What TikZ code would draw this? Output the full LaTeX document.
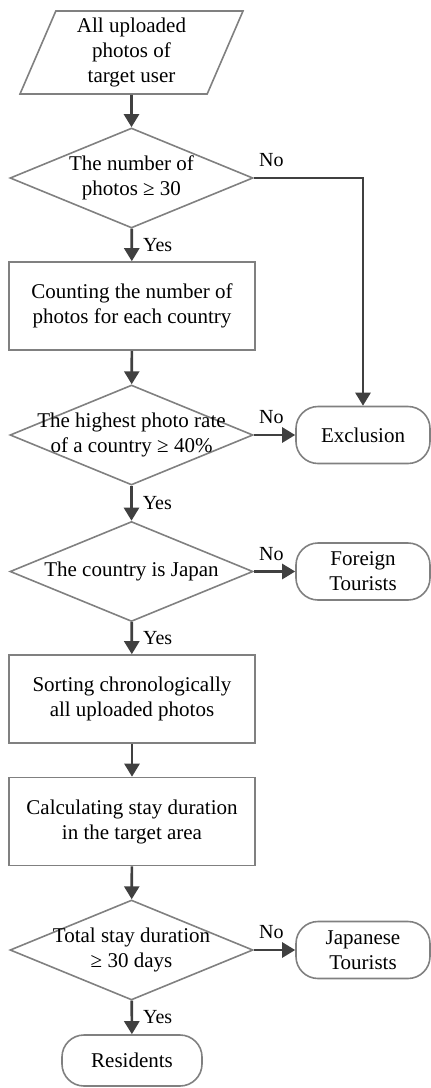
\documentclass[tikz,border=0pt]{standalone}
\usepackage{fontspec}
\setmainfont{Liberation Serif}
\usetikzlibrary{shapes.geometric,arrows.meta}
\definecolor{edgegray}{HTML}{808080}
\definecolor{flowgray}{HTML}{404040}
\begin{document}
\begin{tikzpicture}[x=1pt, y=1pt,
        font=\fontsize{21}{25}\selectfont,
        io/.style={trapezium, trapezium left angle=62.6, trapezium right angle=117.4, trapezium stretches body=true, draw=edgegray, line width=1.6pt, minimum width=223pt, minimum height=83pt, inner sep=0pt, align=center},
        decision/.style={diamond, draw=edgegray, line width=1.6pt, minimum width=243pt, minimum height=100pt, inner sep=-40pt, align=center},
        process/.style={rectangle, draw=edgegray, line width=1.6pt, minimum width=246pt, minimum height=88pt, align=center},
        terminal/.style={rectangle, rounded corners=22pt, draw=edgegray, line width=1.6pt, minimum width=134pt, minimum height=57pt, align=center},
        flow/.style={-{Triangle[length=13pt,width=15pt]}, line width=2.6pt, flowgray},
        answer/.style={font=\fontsize{20}{24}\selectfont, text=black},
        yes/.style={answer, right, inner xsep=10pt},
        no/.style={answer, above right, inner xsep=4pt, inner ysep=10pt}]
        \useasboundingbox (0, 0) rectangle (431, -1088);
        \node[io] (photos) at (131.5, -52.5) {All uploaded\\photos of\\target user};
        \node[decision] (count) at (131.5, -178) {The number of\\photos ≥ 30};
        \node[process] (tally) at (132, -306) {Counting the number of\\photos for each country};
        \node[decision] (rate) at (131.5, -435) {The highest photo rate\\of a country ≥ 40\%};
        \node[terminal] (excl) at (363, -435) {Exclusion};
        \node[decision] (japan) at (131.5, -571.5) {The country is Japan};
        \node[terminal] (foreign) at (363, -571.5) {Foreign\\Tourists};
        \node[process] (sort) at (132, -699) {Sorting chronologically\\all uploaded photos};
        \node[process] (stay) at (132, -821.5) {Calculating stay duration\\in the target area};
        \node[decision] (days) at (131.5, -950) {Total stay duration\\≥ 30 days};
        \node[terminal] (japanese) at (363, -950) {Japanese\\Tourists};
        \node[terminal, minimum width=140pt, minimum height=51pt] (res) at (132, -1060.5) {Residents};
        \draw[flow] (photos) -- (count);
        \draw[flow] (count) to node[yes] {Yes} (tally);
        \draw[flow] (count.east) -| node[no, pos=0] {No} (excl.north);
        \draw[flow] (tally) -- (rate);
        \draw[flow] (rate) to node[yes] {Yes} (japan);
        \draw[flow] (rate) to node[no, pos=0] {No} (excl);
        \draw[flow] (japan) to node[yes] {Yes} (sort);
        \draw[flow] (japan) to node[no, pos=0] {No} (foreign);
        \draw[flow] (sort) -- (stay);
        \draw[flow] (stay) -- (days);
        \draw[flow] (days) to node[yes] {Yes} (res);
        \draw[flow] (days) to node[no, pos=0] {No} (japanese);
    \end{tikzpicture}
\end{document}
